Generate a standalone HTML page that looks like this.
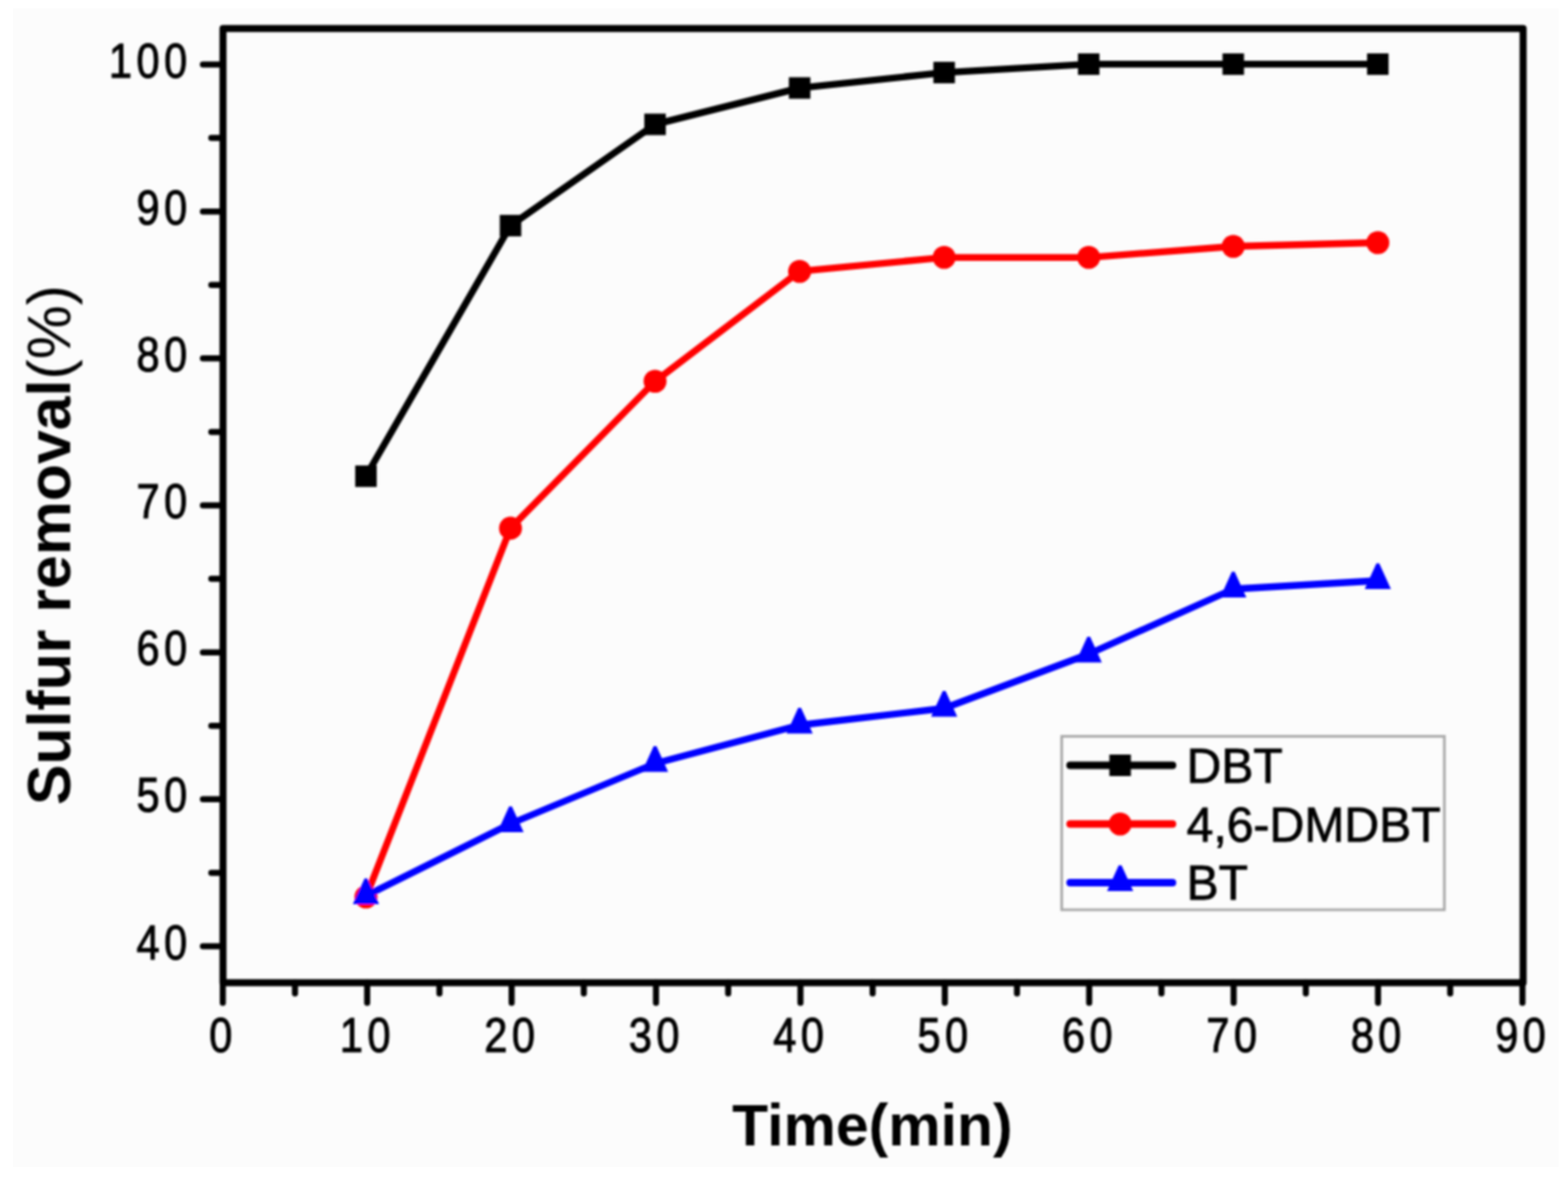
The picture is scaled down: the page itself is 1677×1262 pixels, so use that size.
<!DOCTYPE html><html><head><meta charset="utf-8"><title>Sulfur removal vs Time</title><style>html,body{margin:0;padding:0;background:#fff;}svg{display:block}text{font-family:"Liberation Sans",Arial,Helvetica,sans-serif;fill:#000}</style></head><body>
<svg width="1677" height="1262" viewBox="0 0 1677 1262">
<defs><filter id="b" filterUnits="userSpaceOnUse" x="0" y="0" width="1677" height="1262"><feGaussianBlur stdDeviation="1.2"/></filter></defs>
<rect x="0" y="0" width="1677" height="1262" fill="#ffffff"/>
<rect x="14" y="9" width="1653" height="1239" fill="#fcfcfc"/>
<g filter="url(#b)">
<path d="M217.0,1012.0H238.5M226.0,933.4H238.5M217.0,854.8H238.5M226.0,776.2H238.5M217.0,697.7H238.5M226.0,619.1H238.5M217.0,540.5H238.5M226.0,461.9H238.5M217.0,383.3H238.5M226.0,304.7H238.5M217.0,226.2H238.5M226.0,147.6H238.5M217.0,69.0H238.5M238.3,1051.0V1072.5M315.5,1051.0V1062.5M392.7,1051.0V1072.5M470.0,1051.0V1062.5M547.2,1051.0V1072.5M624.4,1051.0V1062.5M701.6,1051.0V1072.5M778.8,1051.0V1062.5M856.1,1051.0V1072.5M933.3,1051.0V1062.5M1010.5,1051.0V1072.5M1087.7,1051.0V1062.5M1164.9,1051.0V1072.5M1242.2,1051.0V1062.5M1319.4,1051.0V1072.5M1396.6,1051.0V1062.5M1473.8,1051.0V1072.5M1551.0,1051.0V1062.5M1628.3,1051.0V1072.5" stroke="#000" stroke-width="6.5" fill="none" stroke-linecap="round"/>
<rect x="238.5" y="30.5" width="1390.5" height="1020.5" fill="none" stroke="#000" stroke-width="7.5" stroke-linejoin="round"/>
<text transform="translate(205,1025.5) scale(0.87,1)" font-size="51" letter-spacing="5.5" stroke="#000" stroke-width="1.1" text-anchor="end">40</text>
<text transform="translate(205,868.3) scale(0.87,1)" font-size="51" letter-spacing="5.5" stroke="#000" stroke-width="1.1" text-anchor="end">50</text>
<text transform="translate(205,711.1) scale(0.87,1)" font-size="51" letter-spacing="5.5" stroke="#000" stroke-width="1.1" text-anchor="end">60</text>
<text transform="translate(205,554.0) scale(0.87,1)" font-size="51" letter-spacing="5.5" stroke="#000" stroke-width="1.1" text-anchor="end">70</text>
<text transform="translate(205,396.8) scale(0.87,1)" font-size="51" letter-spacing="5.5" stroke="#000" stroke-width="1.1" text-anchor="end">80</text>
<text transform="translate(205,239.6) scale(0.87,1)" font-size="51" letter-spacing="5.5" stroke="#000" stroke-width="1.1" text-anchor="end">90</text>
<text transform="translate(205,82.5) scale(0.87,1)" font-size="51" letter-spacing="5.5" stroke="#000" stroke-width="1.1" text-anchor="end">100</text>
<text transform="translate(238.6,1124.5) scale(0.87,1)" font-size="51" letter-spacing="5.5" stroke="#000" stroke-width="1.1" text-anchor="middle">0</text>
<text transform="translate(393.0,1124.5) scale(0.87,1)" font-size="51" letter-spacing="5.5" stroke="#000" stroke-width="1.1" text-anchor="middle">10</text>
<text transform="translate(547.5,1124.5) scale(0.87,1)" font-size="51" letter-spacing="5.5" stroke="#000" stroke-width="1.1" text-anchor="middle">20</text>
<text transform="translate(701.9,1124.5) scale(0.87,1)" font-size="51" letter-spacing="5.5" stroke="#000" stroke-width="1.1" text-anchor="middle">30</text>
<text transform="translate(856.4,1124.5) scale(0.87,1)" font-size="51" letter-spacing="5.5" stroke="#000" stroke-width="1.1" text-anchor="middle">40</text>
<text transform="translate(1010.8,1124.5) scale(0.87,1)" font-size="51" letter-spacing="5.5" stroke="#000" stroke-width="1.1" text-anchor="middle">50</text>
<text transform="translate(1165.2,1124.5) scale(0.87,1)" font-size="51" letter-spacing="5.5" stroke="#000" stroke-width="1.1" text-anchor="middle">60</text>
<text transform="translate(1319.7,1124.5) scale(0.87,1)" font-size="51" letter-spacing="5.5" stroke="#000" stroke-width="1.1" text-anchor="middle">70</text>
<text transform="translate(1474.1,1124.5) scale(0.87,1)" font-size="51" letter-spacing="5.5" stroke="#000" stroke-width="1.1" text-anchor="middle">80</text>
<text transform="translate(1628.6,1124.5) scale(0.87,1)" font-size="51" letter-spacing="5.5" stroke="#000" stroke-width="1.1" text-anchor="middle">90</text>
<text x="933" y="1225" font-size="63" font-weight="bold" text-anchor="middle">Time(min)</text>
<text transform="translate(75,583) rotate(-90)" x="0" y="0" font-size="65" font-weight="bold" text-anchor="middle">Sulfur removal<tspan font-weight="normal">(%)</tspan></text>
<polyline points="391.4,509.3 546.0,241.3 700.6,133.0 855.2,94.1 1009.8,77.6 1164.4,68.6 1319.0,68.6 1473.6,68.6" fill="none" stroke="#000000" stroke-width="7.3" stroke-linejoin="round" stroke-linecap="round"/>
<rect x="379.9" y="497.8" width="23" height="23" fill="#000"/>
<rect x="534.5" y="229.8" width="23" height="23" fill="#000"/>
<rect x="689.1" y="121.5" width="23" height="23" fill="#000"/>
<rect x="843.7" y="82.6" width="23" height="23" fill="#000"/>
<rect x="998.3" y="66.1" width="23" height="23" fill="#000"/>
<rect x="1152.9" y="57.1" width="23" height="23" fill="#000"/>
<rect x="1307.5" y="57.1" width="23" height="23" fill="#000"/>
<rect x="1462.1" y="57.1" width="23" height="23" fill="#000"/>
<polyline points="391.4,959.3 546.0,564.9 700.6,407.8 855.2,290.2 1009.8,275.3 1164.4,275.3 1319.0,263.5 1473.6,259.5" fill="none" stroke="#ff0000" stroke-width="7.3" stroke-linejoin="round" stroke-linecap="round"/>
<circle cx="391.4" cy="959.3" r="12.3" fill="#ff0000"/>
<circle cx="546.0" cy="564.9" r="12.3" fill="#ff0000"/>
<circle cx="700.6" cy="407.8" r="12.3" fill="#ff0000"/>
<circle cx="855.2" cy="290.2" r="12.3" fill="#ff0000"/>
<circle cx="1009.8" cy="275.3" r="12.3" fill="#ff0000"/>
<circle cx="1164.4" cy="275.3" r="12.3" fill="#ff0000"/>
<circle cx="1319.0" cy="263.5" r="12.3" fill="#ff0000"/>
<circle cx="1473.6" cy="259.5" r="12.3" fill="#ff0000"/>
<polyline points="391.4,958.0 546.0,881.0 700.6,816.5 855.2,775.5 1009.8,757.5 1164.4,699.5 1319.0,630.0 1473.6,621.0" fill="none" stroke="#0000ff" stroke-width="7.3" stroke-linejoin="round" stroke-linecap="round"/>
<polygon points="389.9,939.5 392.9,939.5 405.4,967.0 377.4,967.0" fill="#0000ff"/>
<polygon points="544.5,862.5 547.5,862.5 560.0,890.0 532.0,890.0" fill="#0000ff"/>
<polygon points="699.1,798.0 702.1,798.0 714.6,825.5 686.6,825.5" fill="#0000ff"/>
<polygon points="853.7,757.0 856.7,757.0 869.2,784.5 841.2,784.5" fill="#0000ff"/>
<polygon points="1008.3,739.0 1011.3,739.0 1023.8,766.5 995.8,766.5" fill="#0000ff"/>
<polygon points="1162.9,681.0 1165.9,681.0 1178.4,708.5 1150.4,708.5" fill="#0000ff"/>
<polygon points="1317.5,611.5 1320.5,611.5 1333.0,639.0 1305.0,639.0" fill="#0000ff"/>
<polygon points="1472.1,602.5 1475.1,602.5 1487.6,630.0 1459.6,630.0" fill="#0000ff"/>
<rect x="1135.5" y="787.5" width="409.29999999999995" height="185.5" fill="none" stroke="#a8a8a8" stroke-width="2.8"/>
<line x1="1144.5" y1="818.5" x2="1254" y2="818.5" stroke="#000000" stroke-width="8" stroke-linecap="round"/>
<rect x="1186.5" y="807.0" width="23" height="23" fill="#000"/>
<text transform="translate(1269,837.0) scale(1.0,1)" font-size="51.5" letter-spacing="0" stroke="#000" stroke-width="0.8">DBT</text>
<line x1="1144.5" y1="881.2" x2="1254" y2="881.2" stroke="#ff0000" stroke-width="8" stroke-linecap="round"/>
<circle cx="1198" cy="881.2" r="12.3" fill="#ff0000"/>
<text transform="translate(1269,899.7) scale(1.0,1)" font-size="51.5" letter-spacing="0" stroke="#000" stroke-width="0.8">4,6-DMDBT</text>
<line x1="1144.5" y1="943.9" x2="1254" y2="943.9" stroke="#0000ff" stroke-width="8" stroke-linecap="round"/>
<polygon points="1196.5,925.4 1199.5,925.4 1212.0,952.9 1184.0,952.9" fill="#0000ff"/>
<text transform="translate(1269,962.4) scale(1.0,1)" font-size="51.5" letter-spacing="0" stroke="#000" stroke-width="0.8">BT</text>
</g></svg></body></html>
